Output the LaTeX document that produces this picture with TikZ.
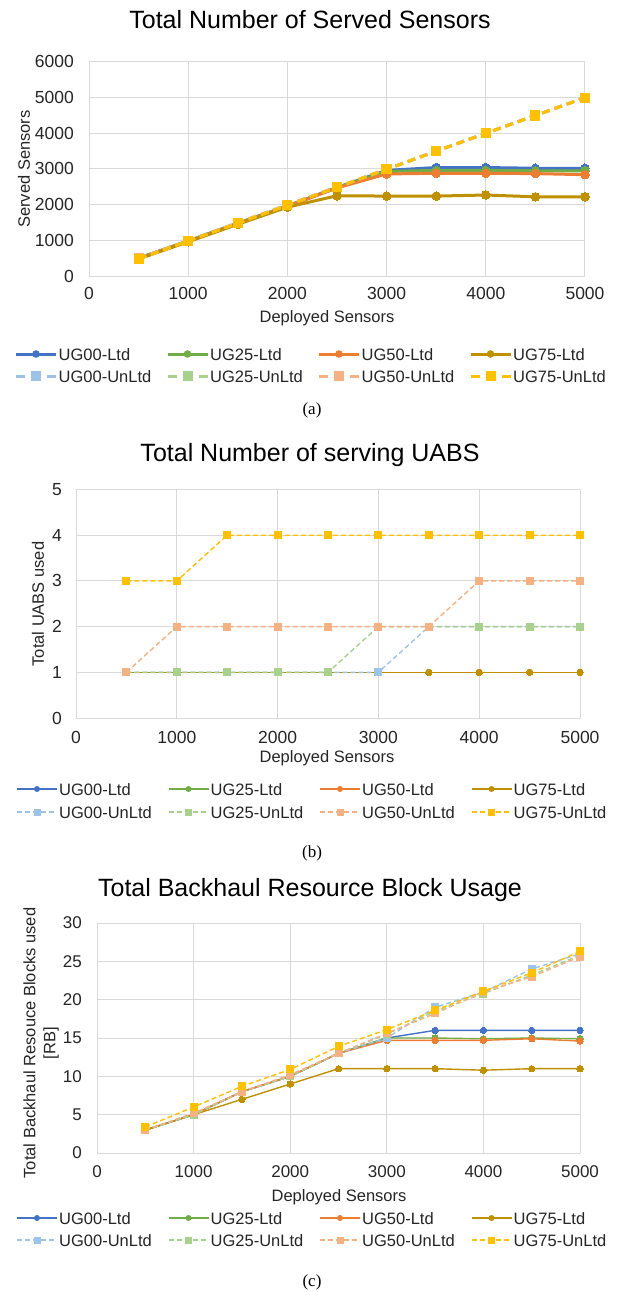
\documentclass[tikz,border=0pt]{standalone}
\usepackage{fontspec}
\setmainfont{Liberation Sans}
\newfontfamily\capfont{Liberation Serif}
\usetikzlibrary{plotmarks}
\definecolor{cA}{HTML}{4472C4}
\definecolor{cB}{HTML}{70AD47}
\definecolor{cC}{HTML}{ED7D31}
\definecolor{cD}{HTML}{BF9000}
\definecolor{cE}{HTML}{9DC3E6}
\definecolor{cF}{HTML}{A9D18E}
\definecolor{cG}{HTML}{F4B183}
\definecolor{cH}{HTML}{FFC000}
\definecolor{gridc}{HTML}{D9D9D9}
\definecolor{txt}{HTML}{262626}
\tikzset{
 charttitle/.style={font=\fontsize{25}{29}\selectfont, text=black, inner sep=0pt},
 tick/.style={font=\fontsize{17.5}{20}\selectfont, text=txt, inner sep=0pt},
 tickc/.style={font=\fontsize{17}{20}\selectfont, text=txt, inner sep=0pt},
 axtitle/.style={font=\fontsize{16.5}{20}\selectfont, text=txt, inner sep=0pt},
 legtext/.style={font=\fontsize{16.5}{19}\selectfont, text=txt, anchor=west, inner sep=0pt},
 captext/.style={font=\capfont\fontsize{17}{20}\selectfont, inner sep=0pt},
 gridl/.style={draw=gridc, line width=1pt},
 ltdthick/.style={line width=3pt, line join=round, mark=*, mark size=4.3pt, mark options={solid, line width=0pt}},
 unthick/.style={line width=3pt, dash pattern=on 8pt off 5pt, mark=square*, mark size=4.6pt, mark options={solid, line width=0pt}},
 ltdthin/.style={line width=1.4pt, line join=round, mark=*, mark size=3.2pt, mark options={solid, line width=0pt}},
 unthin/.style={line width=1.4pt, dash pattern=on 5pt off 3pt, mark=square*, mark size=3.5pt, mark options={solid, line width=0pt}},
}
\begin{document}
\begin{tikzpicture}[x=1pt,y=-1pt]
\useasboundingbox (0,0) rectangle (616,1292);
\fill[white] (0,0) rectangle (616,1292);

% ================= Chart (a) =================
\node[charttitle] (ta) at (310,20) {Total Number of Served Sensors};
\begin{scope}[shift={(89,276)}, x={(0.0992pt,0pt)}, y={(0pt,0.03567pt)}]
  \foreach \v in {0,1000,...,6000} {
    \draw[gridl] (0,\v) -- (5000,\v);
    \node[tick, anchor=east, xshift=-15pt] (ya\v) at (0,\v) {\v};
  }
  \foreach \v in {0,1000,...,5000} {
    \draw[gridl] (\v,0) -- (\v,6000);
    \node[tick, yshift=-17pt] (xa\v) at (\v,0) {\v};
  }
  \draw[cA, ltdthick] plot coordinates {(500,500) (1000,980) (1500,1480) (2000,1960) (2500,2480) (3000,2960) (3500,3040) (4000,3040) (4500,3020) (5000,3020)};
  \draw[cB, ltdthick] plot coordinates {(500,500) (1000,980) (1500,1480) (2000,1960) (2500,2480) (3000,2930) (3500,2960) (4000,2960) (4500,2950) (5000,2950)};
  \draw[cC, ltdthick] plot coordinates {(500,490) (1000,970) (1500,1470) (2000,1950) (2500,2470) (3000,2860) (3500,2880) (4000,2880) (4500,2870) (5000,2840)};
  \draw[cD, ltdthick] plot coordinates {(500,480) (1000,960) (1500,1450) (2000,1930) (2500,2250) (3000,2240) (3500,2240) (4000,2270) (4500,2220) (5000,2220)};
  \draw[cE, unthick] plot coordinates {(500,490) (1000,990) (1500,1490) (2000,1990) (2500,2490) (3000,2990) (3500,3500) (4000,4000) (4500,4500) (5000,5000)};
  \draw[cF, unthick] plot coordinates {(500,490) (1000,990) (1500,1490) (2000,1990) (2500,2490) (3000,2990) (3500,3500) (4000,4000) (4500,4500) (5000,5000)};
  \draw[cG, unthick] plot coordinates {(500,490) (1000,990) (1500,1490) (2000,1990) (2500,2490) (3000,2990) (3500,3500) (4000,4000) (4500,4500) (5000,5000)};
  \draw[cH, unthick] plot coordinates {(500,480) (1000,980) (1500,1480) (2000,1980) (2500,2490) (3000,2990) (3500,3500) (4000,4000) (4500,4500) (5000,5000)};
\end{scope}
\node[axtitle] (xta) at (327,318) {Deployed Sensors};
\node[axtitle, rotate=90] (yta) at (24,169) {Served Sensors};
\foreach \i/\c/\d/\t in {0/cA/cE/UG00,1/cB/cF/UG25,2/cC/cG/UG50,3/cD/cH/UG75} {
  \pgfmathsetmacro\xs{16+151.5*\i}
  \draw[\c, line width=3pt] (\xs,354) -- ++(40,0);
  \fill[\c] (\xs+20,354) circle[radius=3.8pt];
  \node[legtext] (la\i) at (\xs+42.5,355) {\t-Ltd};
  \draw[\d, line width=3pt] (\xs,376) -- ++(9,0);
  \draw[\d, line width=3pt] (\xs+31,376) -- ++(9,0);
  \fill[\d] (\xs+15,371) rectangle ++(10,10);
  \node[legtext] (lau\i) at (\xs+42.5,377) {\t-UnLtd};
}
\node[captext] (capa) at (312,410) {(a)};

% ================= Chart (b) =================
\node[charttitle] (tb) at (310,455) {Total Number of serving UABS};
\begin{scope}[shift={(76,718)}, x={(0.1008pt,0pt)}, y={(0pt,45.7pt)}]
  \foreach \v in {0,...,5} {
    \draw[gridl] (0,\v) -- (5000,\v);
    \node[tick, anchor=east, xshift=-14pt] (yb\v) at (0,\v) {\v};
  }
  \foreach \v in {0,1000,...,5000} {
    \draw[gridl] (\v,0) -- (\v,5);
    \node[tick, yshift=-19pt] (xb\v) at (\v,0) {\v};
  }
  \draw[cA, ltdthin] plot coordinates {(500,1) (1000,1) (1500,1) (2000,1) (2500,1) (3000,1) (3500,1) (4000,1) (4500,1) (5000,1)};
  \draw[cB, ltdthin] plot coordinates {(500,1) (1000,1) (1500,1) (2000,1) (2500,1) (3000,1) (3500,1) (4000,1) (4500,1) (5000,1)};
  \draw[cC, ltdthin] plot coordinates {(500,1) (1000,1) (1500,1) (2000,1) (2500,1) (3000,1) (3500,1) (4000,1) (4500,1) (5000,1)};
  \draw[cD, ltdthin] plot coordinates {(500,1) (1000,1) (1500,1) (2000,1) (2500,1) (3000,1) (3500,1) (4000,1) (4500,1) (5000,1)};
  \draw[cE, unthin] plot coordinates {(500,1) (1000,1) (1500,1) (2000,1) (2500,1) (3000,1) (3500,2) (4000,2) (4500,2) (5000,2)};
  \draw[cF, unthin] plot coordinates {(500,1) (1000,1) (1500,1) (2000,1) (2500,1) (3000,2) (3500,2) (4000,2) (4500,2) (5000,2)};
  \draw[cG, unthin] plot coordinates {(500,1) (1000,2) (1500,2) (2000,2) (2500,2) (3000,2) (3500,2) (4000,3) (4500,3) (5000,3)};
  \draw[cH, unthin] plot coordinates {(500,3) (1000,3) (1500,4) (2000,4) (2500,4) (3000,4) (3500,4) (4000,4) (4500,4) (5000,4)};
\end{scope}
\node[axtitle] (xtb) at (327,758) {Deployed Sensors};
\node[axtitle, rotate=90] (ytb) at (38,604) {Total UABS used};
\foreach \i/\c/\d/\t in {0/cA/cE/UG00,1/cB/cF/UG25,2/cC/cG/UG50,3/cD/cH/UG75} {
  \pgfmathsetmacro\xs{17+151.5*\i}
  \draw[\c, line width=1.4pt] (\xs,789) -- ++(40,0);
  \fill[\c] (\xs+20,789) circle[radius=3pt];
  \node[legtext] (lb\i) at (\xs+42,790) {\t-Ltd};
  \draw[\d, line width=1.4pt, dash pattern=on 5pt off 3pt] (\xs,812) -- ++(40,0);
  \fill[\d] (\xs+16.5,808.5) rectangle ++(7,7);
  \node[legtext] (lbu\i) at (\xs+42,813) {\t-UnLtd};
}
\node[captext] (capb) at (312,853) {(b)};

% ================= Chart (c) =================
\node[charttitle] (tc) at (310,890) {Total Backhaul Resource Block Usage};
\begin{scope}[shift={(97,1153)}, x={(0.0966pt,0pt)}, y={(0pt,7.667pt)}]
  \foreach \v in {0,5,...,30} {
    \draw[gridl] (0,\v) -- (5000,\v);
    \node[tickc, anchor=east, xshift=-15pt] (yc\v) at (0,\v) {\v};
  }
  \foreach \v in {0,1000,...,5000} {
    \draw[gridl] (\v,0) -- (\v,30);
    \node[tickc, yshift=-19pt] (xc\v) at (\v,0) {\v};
  }
  \draw[cA, ltdthin] plot coordinates {(500,3) (1000,5) (1500,8) (2000,10) (2500,13) (3000,15) (3500,16) (4000,16) (4500,16) (5000,16)};
  \draw[cB, ltdthin] plot coordinates {(500,3) (1000,5) (1500,8) (2000,10) (2500,13) (3000,15) (3500,15) (4000,14.9) (4500,15) (5000,14.9)};
  \draw[cC, ltdthin] plot coordinates {(500,3) (1000,5) (1500,8) (2000,10) (2500,13) (3000,14.7) (3500,14.7) (4000,14.7) (4500,14.9) (5000,14.6)};
  \draw[cD, ltdthin] plot coordinates {(500,3) (1000,5) (1500,7) (2000,9) (2500,11) (3000,11) (3500,11) (4000,10.8) (4500,11) (5000,11)};
  \draw[cE, unthin] plot coordinates {(500,3) (1000,5) (1500,8) (2000,10) (2500,13) (3000,15) (3500,19) (4000,21) (4500,24) (5000,26)};
  \draw[cF, unthin] plot coordinates {(500,3) (1000,5) (1500,8) (2000,10) (2500,13) (3000,15.5) (3500,18.5) (4000,20.8) (4500,23.2) (5000,25.8)};
  \draw[cG, unthin] plot coordinates {(500,3) (1000,5.2) (1500,8) (2000,10.2) (2500,13) (3000,15.6) (3500,18.2) (4000,21) (4500,23) (5000,25.6)};
  \draw[cH, unthin] plot coordinates {(500,3.4) (1000,6) (1500,8.7) (2000,10.9) (2500,13.9) (3000,16.1) (3500,18.6) (4000,21.1) (4500,23.5) (5000,26.3)};
\end{scope}
\node[axtitle] (xtc) at (339,1197) {Deployed Sensors};
\node[axtitle, rotate=90, align=center] (ytc) at (41,1043) {Total Backhaul Resouce Blocks used\\[0pt][RB]};
\foreach \i/\c/\d/\t in {0/cA/cE/UG00,1/cB/cF/UG25,2/cC/cG/UG50,3/cD/cH/UG75} {
  \pgfmathsetmacro\xs{17+151.5*\i}
  \draw[\c, line width=1.4pt] (\xs,1218) -- ++(40,0);
  \fill[\c] (\xs+20,1218) circle[radius=3pt];
  \node[legtext] (lc\i) at (\xs+42,1219) {\t-Ltd};
  \draw[\d, line width=1.4pt, dash pattern=on 5pt off 3pt] (\xs,1240) -- ++(40,0);
  \fill[\d] (\xs+16.5,1236.5) rectangle ++(7,7);
  \node[legtext] (lcu\i) at (\xs+42,1241) {\t-UnLtd};
}
\node[captext] (capc) at (312,1282) {(c)};
\end{tikzpicture}
\end{document}
